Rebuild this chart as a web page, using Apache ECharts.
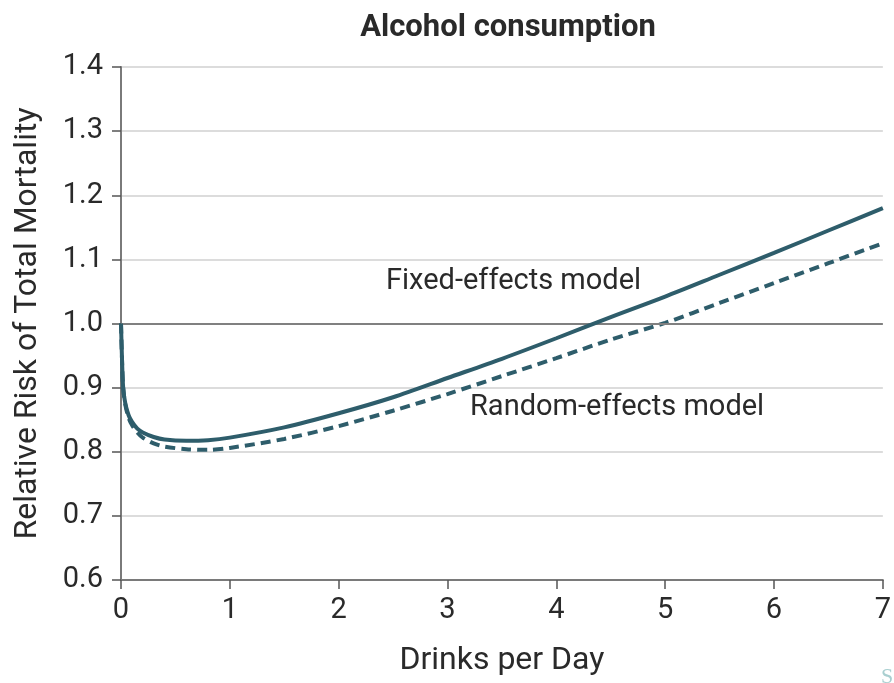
<!DOCTYPE html>
<html><head><meta charset="utf-8">
<script src="https://cdn.jsdelivr.net/npm/echarts@6/dist/echarts.min.js"></script>
<style>html,body{margin:0;padding:0;background:#fff}#c{width:894px;height:683px}</style>
</head><body><div id="c"></div>
<script>
const drinksFixed = [0,0.01,0.02,0.04,0.07,0.1,0.15,0.2,0.3,0.4,0.6,0.8,1.0,1.5,2.0,2.5,3.0,3.5,4.0,4.5,5.0,5.5,6.0,6.5,7.0];
const fixedRR =     [1.0,0.94,0.9,0.875,0.857,0.847,0.836,0.83,0.823,0.819,0.817,0.818,0.822,0.838,0.86,0.885,0.915,0.945,0.977,1.01,1.042,1.076,1.11,1.145,1.18];
const drinksRandom = [0,0.01,0.02,0.04,0.07,0.1,0.15,0.2,0.3,0.4,0.6,0.8,1.0,1.5,2.0,2.5,3.0,3.5,4.0,4.5,5.0,5.5,6.0,6.5,7.0];
const randomRR =     [1.0,0.94,0.9,0.873,0.853,0.842,0.83,0.822,0.813,0.808,0.804,0.803,0.806,0.82,0.84,0.864,0.89,0.918,0.946,0.975,1.001,1.032,1.063,1.094,1.125];
const xTicks = [0,1,2,3,4,5,6,7];
const yTicks = [0.6,0.7,0.8,0.9,1.0,1.1,1.2,1.3,1.4];
const title = 'Alcohol consumption';
const xName = 'Drinks per Day';
const yName = 'Relative Risk of Total Mortality';
const labelFixed = 'Fixed-effects model';
const labelRandom = 'Random-effects model';

const FONT = 'Roboto,"Noto Sans",sans-serif';
const TXT = '#2a2a2a';
const LINE = '#2e5d6b';
const chart = echarts.init(document.getElementById('c'), null, {renderer:'canvas'});
chart.setOption({
  animation:false,
  backgroundColor:'#fff',
  title:{text:title,left:503,top:8,textAlign:'center',
    textStyle:{fontFamily:FONT,fontSize:31,fontWeight:'bold',color:TXT}},
  grid:{left:121,right:8,top:67,bottom:103,containLabel:false},
  xAxis:{type:'value',min:0,max:7,interval:1,
    name:xName,nameLocation:'middle',nameGap:65,
    nameTextStyle:{fontFamily:FONT,fontSize:32,color:TXT},
    axisLine:{show:true,onZero:false,lineStyle:{color:'#7a7a7a',width:2}},
    axisTick:{show:true,length:9,lineStyle:{color:'#555',width:1.5}},
    axisLabel:{fontFamily:FONT,fontSize:29,color:TXT,margin:16,
      formatter:v=>xTicks.includes(v)?String(v):''},
    splitLine:{show:false}},
  yAxis:{type:'value',min:0.6,max:1.4,interval:0.1,
    name:yName,nameLocation:'middle',nameGap:77,nameRotate:90,
    nameTextStyle:{fontFamily:FONT,fontSize:32,color:TXT},
    axisLine:{show:true,onZero:false,lineStyle:{color:'#7a7a7a',width:2}},
    axisTick:{show:true,length:9,lineStyle:{color:'#555',width:1.5}},
    axisLabel:{fontFamily:FONT,fontSize:29,color:TXT,margin:18,
      formatter:v=>{const t=yTicks.find(k=>Math.abs(k-v)<1e-6);return t===undefined?'':t.toFixed(1);}},
    splitLine:{show:true,lineStyle:{color:'#dcdcdc',width:2}}},
  series:[
    {type:'line',name:labelFixed,data:drinksFixed.map((x,i)=>[x,fixedRR[i]]),
     showSymbol:false,smooth:0.3,lineStyle:{color:LINE,width:4},z:5,
     markLine:{silent:true,symbol:'none',label:{show:false},
       lineStyle:{color:'#808080',width:2,type:'solid'},data:[{yAxis:1.0}]}},
    {type:'line',name:labelRandom,data:drinksRandom.map((x,i)=>[x,randomRR[i]]),
     showSymbol:false,smooth:0.3,lineStyle:{color:LINE,width:4,type:[10,6]},z:4}
  ],
  graphic:[
    {type:'text',left:386,top:267,style:{text:labelFixed,fontFamily:FONT,fontSize:29,fill:TXT}},
    {type:'text',left:470,top:393,style:{text:labelRandom,fontFamily:FONT,fontSize:29,fill:TXT}},
    {type:'text',left:881,top:666,style:{text:'S',fontFamily:'"Liberation Serif",serif',fontSize:22,fill:'#a9cfd0'}}
  ]
});
</script></body></html>
